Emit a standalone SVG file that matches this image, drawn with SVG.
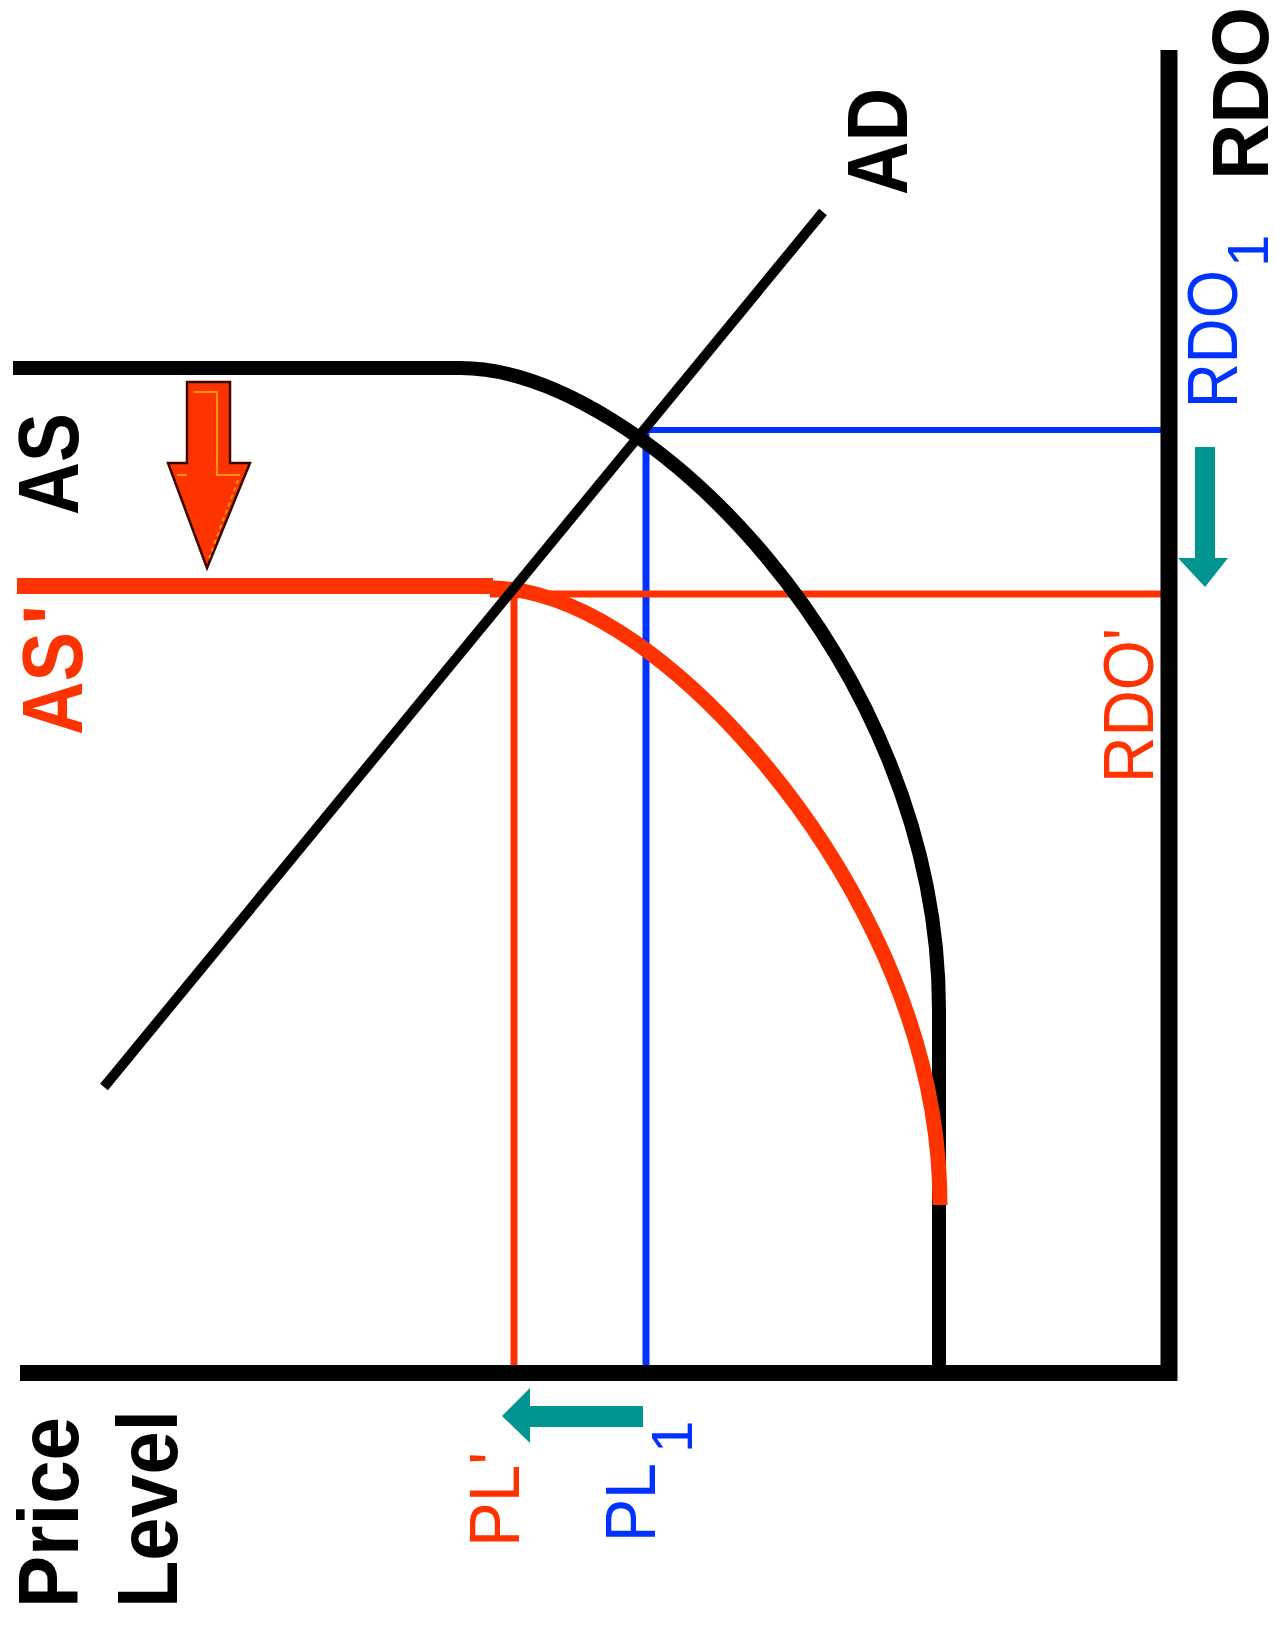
<svg xmlns="http://www.w3.org/2000/svg" width="1275" height="1627" viewBox="0 0 1275 1627">
<style>
.t{font-family:"Liberation Sans",Arial,sans-serif;}
.b{font-weight:bold;}
.blk{fill:#000;}
.red{fill:#ff3300;}
.blu{fill:#0033ff;}
.ln{fill:none;stroke-linecap:butt;}
</style>
<rect width="1275" height="1627" fill="#fff"/>
<g id="connectors">
<line class="ln" x1="643" y1="430" x2="1162" y2="430" stroke="#0033ff" stroke-width="6"/>
<line class="ln" x1="646" y1="430" x2="646" y2="1372" stroke="#0033ff" stroke-width="7"/>
<line class="ln" x1="490" y1="594" x2="1162" y2="594" stroke="#ff3300" stroke-width="7"/>
<line class="ln" x1="514" y1="594" x2="514" y2="1370" stroke="#ff3300" stroke-width="7"/>
</g>
<g id="axes">
<line class="ln" x1="1169" y1="50" x2="1169" y2="1381" stroke="#000" stroke-width="17"/>
<line class="ln" x1="20" y1="1373" x2="1177" y2="1373" stroke="#000" stroke-width="16"/>
</g>
<g id="AS">
<path class="ln" d="M13,368 H460 C640,368 939,660 939,1010 V1371" stroke="#000" stroke-width="14"/>
</g>
<g id="AS-prime">
<line class="ln" x1="17" y1="586" x2="493" y2="586" stroke="#ff3300" stroke-width="16"/>
<path class="ln" d="M490,588 C590,588 691,680 750,747 C829,837 940,1005 940,1205" stroke="#ff3300" stroke-width="15"/>
</g>
<g id="AD">
<line class="ln" x1="104" y1="1087" x2="823" y2="212" stroke="#000" stroke-width="10"/>
</g>
<g id="shift-arrow">
<polygon points="187,382 230,382 230,463 250,463 207,568 168,463 187,463" fill="#ff3300" stroke="#3a0800" stroke-width="2.5" stroke-linejoin="miter"/>
<polyline points="194,392 217,392 217,475 240,475" fill="none" stroke="#ff9900" stroke-width="2"/>
<polyline points="177,475 187,475" fill="none" stroke="#ff9900" stroke-width="2"/>
<line x1="238" y1="480" x2="209" y2="558" stroke="#ff9900" stroke-width="2" stroke-dasharray="4,4"/>
</g>
<g id="rdo-arrow">
<polygon points="1195,447 1215,447 1215,558 1228,558 1205,587 1178,558 1195,558" fill="#009590"/>
</g>
<g id="pl-arrow">
<polygon points="643,1406 643,1427 530,1427 530,1443 502,1416 530,1388 530,1406" fill="#009590"/>
</g>
<g id="labels">
<text class="t b blk" font-size="80" textLength="173" lengthAdjust="spacingAndGlyphs" transform="translate(1268,180) rotate(-90)">RDO</text>
<text class="t blu" font-size="70" textLength="138" lengthAdjust="spacingAndGlyphs" transform="translate(1237,408) rotate(-90)">RDO</text>
<text class="t blu" font-size="58" transform="translate(1268,267) rotate(-90)">1</text>
<text class="t b blk" font-size="86" textLength="107" lengthAdjust="spacingAndGlyphs" transform="translate(907,195) rotate(-90)">AD</text>
<text class="t b blk" font-size="85" textLength="102" lengthAdjust="spacingAndGlyphs" transform="translate(78,515) rotate(-90)">AS</text>
<text class="t b red" font-size="86" transform="translate(82,735) rotate(-90)"><tspan textLength="103" lengthAdjust="spacingAndGlyphs">AS</tspan><tspan x="110">'</tspan></text>
<text class="t red" font-size="70" textLength="155" lengthAdjust="spacingAndGlyphs" transform="translate(1153,783) rotate(-90)">RDO'</text>
<text class="t red" font-size="71" textLength="95" lengthAdjust="spacingAndGlyphs" transform="translate(519,1547) rotate(-90)">PL'</text>
<text class="t blu" font-size="70" textLength="79" lengthAdjust="spacingAndGlyphs" transform="translate(655,1542) rotate(-90)">PL</text>
<text class="t blu" font-size="58" transform="translate(692,1453) rotate(-90)">1</text>
<text class="t b blk" font-size="85" textLength="191" lengthAdjust="spacingAndGlyphs" transform="translate(78,1608) rotate(-90)">Price</text>
<text class="t b blk" font-size="85" textLength="198" lengthAdjust="spacingAndGlyphs" transform="translate(177,1608) rotate(-90)">Level</text>
</g>
</svg>
